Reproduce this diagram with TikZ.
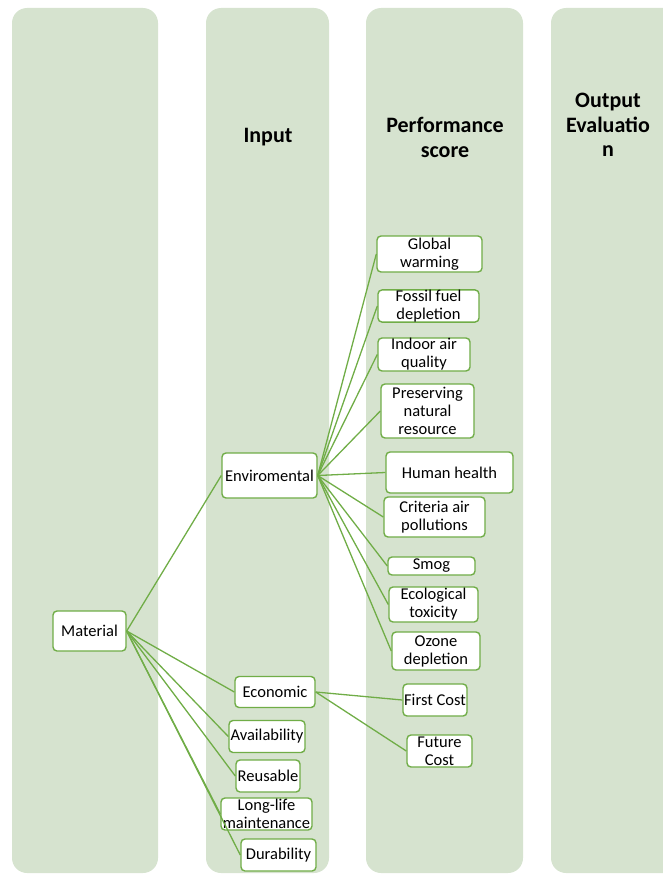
\documentclass[tikz,border=0pt]{standalone}
\usepackage{fontspec}
\setmainfont{Carlito}
\definecolor{lanegreen}{RGB}{214,227,207}
\definecolor{linegreen}{RGB}{112,173,71}
\begin{document}
\begin{tikzpicture}
  [x=1pt,y=-1pt,
   lane/.style={fill=lanegreen,rounded corners=15pt},
   box/.style={draw=linegreen,line width=1.4pt,fill=white,rounded corners=4pt,align=center,inner sep=0pt,font=\fontsize{16.5}{18}\selectfont},
   wh/.style 2 args={minimum width=#1pt,minimum height=#2pt},
   head/.style={align=center,font=\fontsize{22}{24.5}\selectfont\bfseries},
   link/.style={draw=linegreen,line width=1.3pt}]
  \useasboundingbox (0,0) rectangle (662,875);

  % lanes
  \fill[lane] (12,8) rectangle (158,873);
  \fill[lane] (206,8) rectangle (329,873);
  \fill[lane] (366,8) rectangle (523,873);
  \fill[lane] (551,8) rectangle (700,873);

  \node[head] (hin) at (268,137) {Input};
  \node[head] (hps) at (445,137.5) {Performance\\score};
  \node[head] (hout) at (608,125) {Output\\Evaluatio\\n};

  \node[box,wh={73}{40}] (mat) at (89.5,631) {Material};

  \node[box,wh={95}{45}] (env) at (269.5,475.5) {Enviromental};
  \node[box,wh={80}{31}] (eco) at (275,692) {Economic};
  \node[box,wh={76}{32}] (ava) at (267,736.5) {Availability};
  \node[box,wh={64}{32}] (reu) at (268,776) {Reusable};
  \node[box,wh={91}{32}] (llm) at (266.5,814) {Long-life\\maintenance};
  \node[box,wh={75}{32}] (dur) at (278.5,855) {Durability};

  \node[box,wh={105}{36}] (gw) at (429.5,254) {Global\\warming};
  \node[box,wh={101}{32}] (ff) at (428.5,306) {Fossil fuel\\depletion};
  \node[box,wh={92}{33}] (ia) at (424,354.5) {Indoor air\\quality};
  \node[box,wh={93}{54}] (pn) at (427.5,411) {Preserving\\natural\\resource};
  \node[box,wh={127}{41}] (hh) at (449.5,472.5) {Human health};
  \node[box,wh={101}{40}] (ca) at (434.5,517) {Criteria air\\pollutions};
  \node[box,wh={87}{18}] (sm) at (431.5,566) {Smog};
  \node[box,wh={89}{35}] (et) at (433.5,604.5) {Ecological\\toxicity};
  \node[box,wh={88}{38}] (od) at (436,651) {Ozone\\depletion};

  \node[box,wh={64}{32}] (fc) at (435,700) {First Cost};
  \node[box,wh={65}{32}] (fuc) at (439.5,751) {Future\\Cost};

  \foreach \to in {env,eco,ava,reu,llm,dur}
    \draw[link] (mat.east) -- (\to.west);

  \foreach \to in {gw,ff,ia,pn,hh,ca,sm,et,od}
    \draw[link] (env.east) -- (\to.west);

  \foreach \to in {fc,fuc}
    \draw[link] (eco.east) -- (\to.west);

\end{tikzpicture}
\end{document}
